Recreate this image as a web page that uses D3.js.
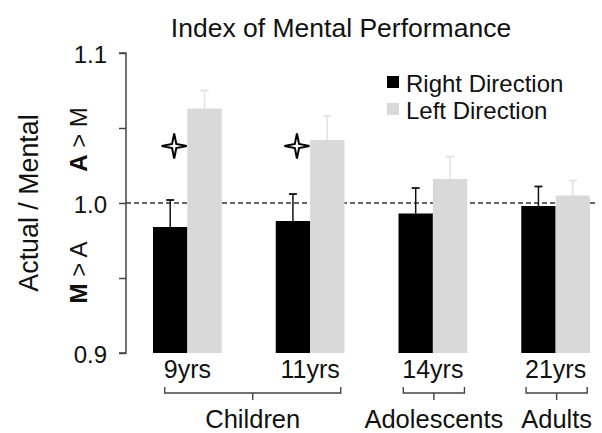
<!DOCTYPE html>
<html>
<head>
<meta charset="utf-8">
<script src="https://cdn.jsdelivr.net/npm/d3@7"></script>
<style>
  html, body { margin: 0; padding: 0; background: #fff; }
  svg { display: block; }
  text { font-family: "Liberation Sans", Arial, sans-serif; fill: #111; }
</style>
</head>
<body>
<svg id="chart" width="602" height="433"></svg>
<script>
// ---- data ----
const ages = ["9yrs", "11yrs", "14yrs", "21yrs"];
const series = ["Right Direction", "Left Direction"];
const rightValues = [0.984, 0.988, 0.993, 0.998];
const rightErrors = [0.018, 0.018, 0.017, 0.013];
const leftValues = [1.063, 1.042, 1.016, 1.005];
const leftErrors = [0.012, 0.016, 0.015, 0.010];
const significant = [true, true, false, false];
const groups = [
  { name: "Children", members: ["9yrs", "11yrs"] },
  { name: "Adolescents", members: ["14yrs"] },
  { name: "Adults", members: ["21yrs"] }
];
const yTicks = [0.9, 0.95, 1.0, 1.05, 1.1];
const yTickLabels = ["0.9", "", "1.0", "", "1.1"];
const starValue = 1.038;
const title = "Index of Mental Performance";

const svg = d3.select("#chart");

const y = d3.scaleLinear().domain([0.9, 1.1]).range([353, 53]);
const x = d3.scaleBand().domain(ages).range([126, 617]).paddingInner(0.44).paddingOuter(0.22);
const xs = d3.scaleBand().domain(series).range([0, x.bandwidth()]);
const color = d3.scaleOrdinal().domain(series).range(["#000000", "#d9d9d9"]);
const errColor = d3.scaleOrdinal().domain(series).range(["#111111", "#e2e2e2"]);

const table = ages.map((a, i) => ({
  age: a,
  vals: [
    { s: series[0], v: rightValues[i], e: rightErrors[i] },
    { s: series[1], v: leftValues[i], e: leftErrors[i] }
  ],
  sig: significant[i]
}));

// title
svg.append("text")
  .attr("x", 341).attr("y", 37)
  .attr("text-anchor", "middle")
  .style("font-size", "26.5px")
  .text(title);

// reference line at 1.0
svg.append("line")
  .attr("x1", 126).attr("x2", 598)
  .attr("y1", y(1.0)).attr("y2", y(1.0))
  .attr("stroke", "#333").attr("stroke-width", 1.4)
  .attr("stroke-dasharray", "5,3");

// bars
const g = svg.append("g");
const grp = g.selectAll("g.grp").data(table).join("g")
  .attr("transform", d => `translate(${x(d.age)},0)`);

grp.selectAll("rect").data(d => d.vals).join("rect")
  .attr("x", d => xs(d.s))
  .attr("width", xs.bandwidth())
  .attr("y", d => y(d.v))
  .attr("height", d => y(0.9) - y(d.v))
  .attr("fill", d => color(d.s));

// error bars (upper only)
const eb = grp.selectAll("g.eb").data(d => d.vals).join("g");
eb.append("line")
  .attr("x1", d => xs(d.s) + xs.bandwidth() / 2)
  .attr("x2", d => xs(d.s) + xs.bandwidth() / 2)
  .attr("y1", d => y(d.v))
  .attr("y2", d => y(d.v + d.e))
  .attr("stroke", d => errColor(d.s)).attr("stroke-width", 1.5);
eb.append("line")
  .attr("x1", d => xs(d.s) + xs.bandwidth() / 2 - 4)
  .attr("x2", d => xs(d.s) + xs.bandwidth() / 2 + 4)
  .attr("y1", d => y(d.v + d.e))
  .attr("y2", d => y(d.v + d.e))
  .attr("stroke", d => errColor(d.s)).attr("stroke-width", 1.8);

// stars
function starPath(R, r) {
  const pts = [];
  for (let k = 0; k < 8; k++) {
    const ang = -Math.PI / 2 + k * Math.PI / 4;
    const rad = k % 2 === 0 ? R : r;
    pts.push([rad * Math.cos(ang), rad * Math.sin(ang)]);
  }
  return "M" + pts.map(p => p.join(",")).join("L") + "Z";
}
svg.selectAll("path.star").data(table.filter(d => d.sig)).join("path")
  .attr("class", "star")
  .attr("d", starPath(12.5, 3))
  .attr("transform", d => `translate(${x(d.age) + xs(series[0]) + xs.bandwidth() / 2 + 4},${y(starValue)})`)
  .attr("fill", "#fff").attr("stroke", "#000").attr("stroke-width", 2)
  .attr("stroke-linejoin", "miter");

// y axis
const axis = svg.append("g").attr("transform", "translate(126,0)")
  .call(d3.axisLeft(y).tickValues(yTicks).tickSize(7).tickFormat((d, i) => yTickLabels[i]).tickPadding(12));
axis.select(".domain").attr("stroke", "#444").attr("stroke-width", 1.5).attr("d", `M-7,${y(1.1)}H0V${y(0.9)}H-7`);
axis.selectAll(".tick line").attr("stroke", "#444").attr("stroke-width", 1.5);
axis.selectAll(".tick text")
  .style("font-size", "24px")
  .style("font-family", "'Liberation Sans', Arial, sans-serif")
  .attr("fill", "#111").attr("dy", "0.4em");

// y labels
svg.append("text")
  .attr("transform", `translate(38,${y(1.0)}) rotate(-90)`)
  .attr("text-anchor", "middle")
  .style("font-size", "26.8px")
  .text("Actual / Mental");

function sideLabel(cy, a, b) {
  const t = svg.append("text")
    .attr("transform", `translate(87,${cy}) rotate(-90)`)
    .attr("text-anchor", "middle")
    .style("font-size", "24px");
  t.append("tspan").style("font-weight", "bold").text(a);
  t.append("tspan").text(" > ");
  t.append("tspan").text(b);
  return t;
}
sideLabel(139.5, "A", "M");
sideLabel(272.5, "M", "A");

// category labels
const catLabels = svg.selectAll("text.cat").data(ages).join("text")
  .attr("class", "cat")
  .attr("x", d => x(d) + x.bandwidth() / 2)
  .attr("y", 378)
  .attr("text-anchor", "middle")
  .style("font-size", "25px")
  .text(d => d);

// brackets
const bbox = {};
catLabels.each(function(d) { bbox[d] = this.getBBox(); });
groups.forEach(gr => {
  const x0 = d3.min(gr.members, m => bbox[m].x) + 1;
  const x1 = d3.max(gr.members, m => bbox[m].x + bbox[m].width) + 1;
  const cx = (x0 + x1) / 2;
  svg.append("path")
    .attr("d", `M${x0},387V393H${x1}V387M${cx},393V400`)
    .attr("fill", "none").attr("stroke", "#444").attr("stroke-width", 1.4);
  svg.append("text")
    .attr("x", cx).attr("y", 428)
    .attr("text-anchor", "middle")
    .style("font-size", "25.5px")
    .text(gr.name);
});

// legend
const leg = svg.append("g").attr("transform", "translate(387,76)");
const li = leg.selectAll("g").data(series).join("g")
  .attr("transform", (d, i) => `translate(0,${i * 27})`);
li.append("rect").attr("width", 12).attr("height", 12).attr("fill", d => color(d));
li.append("text").attr("x", 19).attr("y", 15.5).style("font-size", "24px").text(d => d);
</script>
</body>
</html>
